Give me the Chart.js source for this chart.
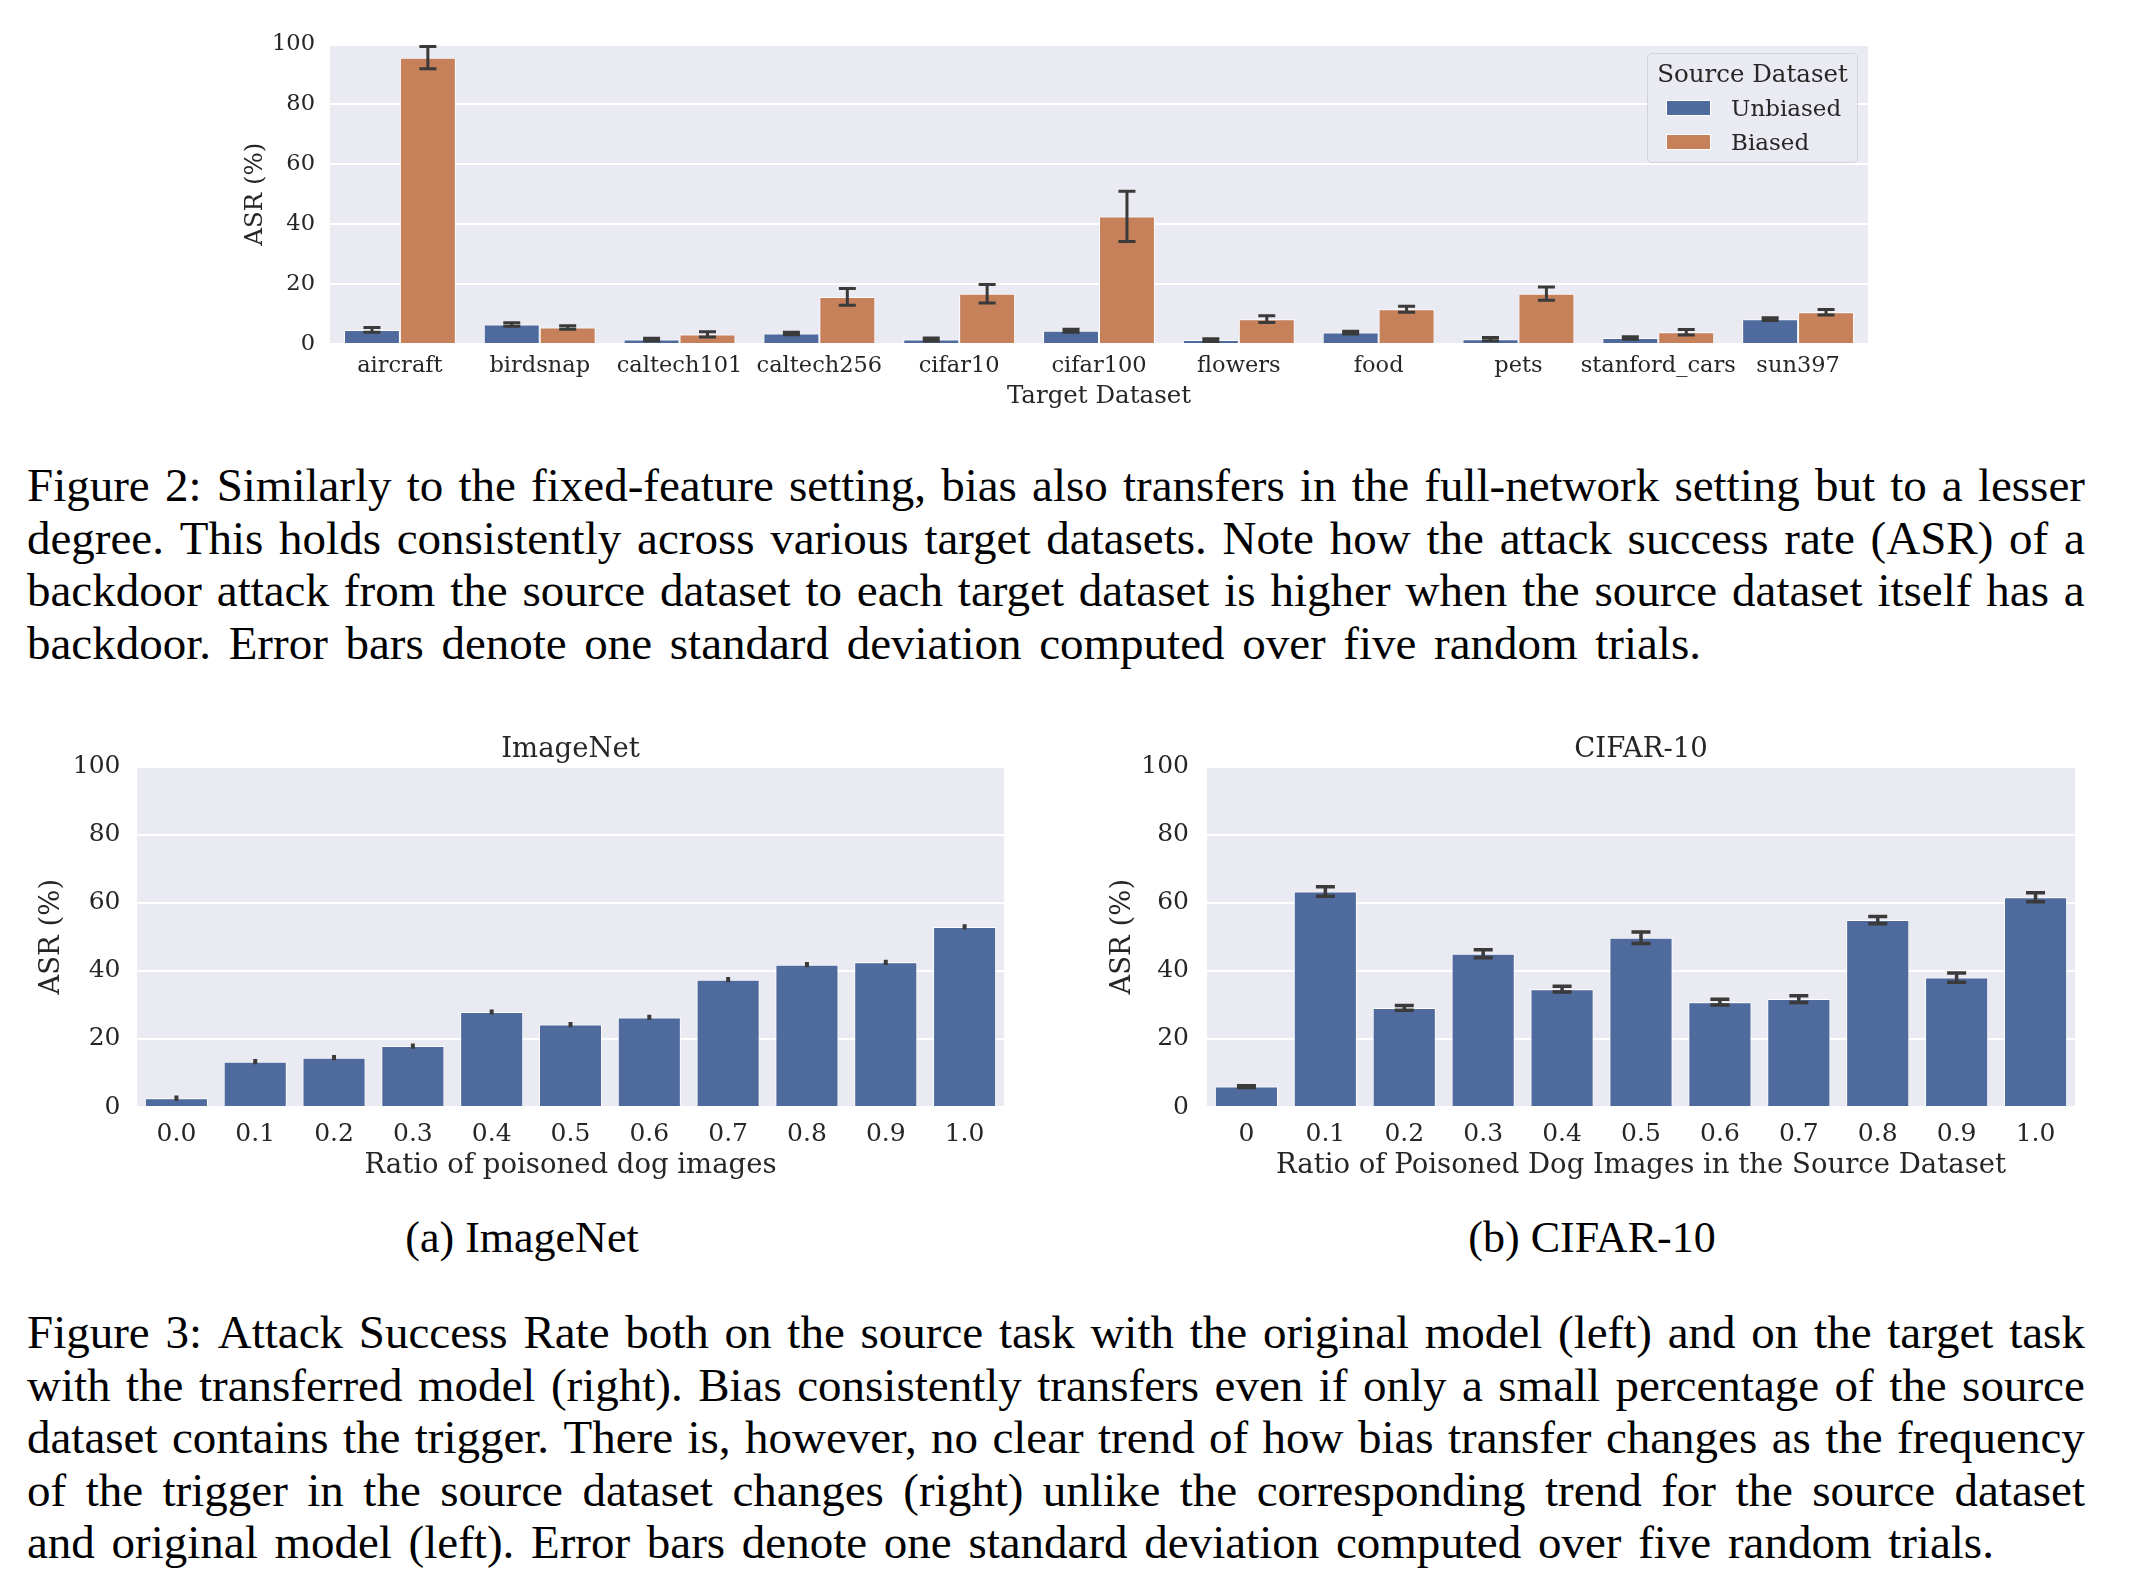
<!DOCTYPE html>
<html>
<head>
<meta charset="utf-8">
<script src="https://cdn.jsdelivr.net/npm/chart.js@4.4.1/dist/chart.umd.min.js"></script>
<style>
  html, body { margin: 0; padding: 0; background: #fff; }
  body { width: 2130px; height: 1594px; position: relative; overflow: hidden; }
  .abs { position: absolute; }
  .cap { position: absolute; left: 27px; width: 2058px; font-family: "Liberation Serif", serif; font-size: 47px; color: #000; }
  .cap .ln { display: flex; justify-content: space-between; height: 52.6px; line-height: 52.6px; white-space: nowrap; }
  .sub { position: absolute; font-family: "Liberation Serif", serif; font-size: 44px; line-height: 52px; color: #000; transform: translateX(-50%); white-space: nowrap; }
  #legend { position: absolute; left: 1647px; top: 53px; width: 211px; height: 110px; box-sizing: border-box;
            border: 1.5px solid #d2d2da; border-radius: 5px; background: rgba(234,234,242,0.85);
            font-family: "DejaVu Serif", serif; color: #262626; }
  #legend .lt { position: absolute; left: 0; width: 100%; top: 5px; text-align: center; font-size: 24.5px; line-height: 30px; }
  #legend .row { position: absolute; left: 18px; font-size: 23px; line-height: 28px; }
  #legend .sw { position: absolute; left: 0; top: 6px; width: 45px; height: 16px; border: 1px solid #fff; box-sizing: border-box; }
  #legend .tx { position: absolute; left: 65px; top: 0; }
</style>
</head>
<body>
<div class="abs" style="left:200px;top:16px;width:1700px;height:404px;"><canvas id="top" width="1700" height="404"></canvas></div>
<div id="legend"></div>
<div class="cap" id="cap2" style="top:459px;"></div>
<div class="abs" style="left:0px;top:700px;width:1060px;height:500px;"><canvas id="imnet" width="1060" height="500"></canvas></div>
<div class="abs" style="left:1070px;top:700px;width:1060px;height:500px;"><canvas id="cifar" width="1060" height="500"></canvas></div>
<div class="sub" style="left:522px;top:1212px;">(a) ImageNet</div>
<div class="sub" style="left:1592px;top:1212px;">(b) CIFAR-10</div>
<div class="cap" id="cap3" style="top:1306px;"></div>
<script>
// Figure 2 data
const targets = ["aircraft", "birdsnap", "caltech101", "caltech256", "cifar10", "cifar100",
                 "flowers", "food", "pets", "stanford_cars", "sun397"];
const seriesNames = ["Unbiased", "Biased"];
const seriesColors = ["#4f6a9c", "#c6815a"];
const unbiased = [4.7, 6.5, 1.5, 3.5, 1.5, 4.4, 1.3, 3.8, 1.6, 2.0, 8.3];
const unbiasedErr = [0.8, 0.6, 0.4, 0.4, 0.5, 0.5, 0.45, 0.45, 0.55, 0.4, 0.45];
const biased = [95.6, 5.5, 3.2, 15.7, 16.8, 42.6, 8.3, 11.6, 16.8, 3.9, 10.6];
const biasedErr = [3.7, 0.6, 0.9, 2.8, 3.1, 8.4, 1.1, 1.0, 2.2, 0.9, 0.9];

// Figure 3 data
const imagenetRatios = ["0.0", "0.1", "0.2", "0.3", "0.4", "0.5", "0.6", "0.7", "0.8", "0.9", "1.0"];
const imagenetAsr = [2.6, 13.3, 14.5, 17.9, 27.9, 24.2, 26.3, 37.4, 41.8, 42.5, 52.9];
const imagenetErr = [0.25, 0.25, 0.25, 0.25, 0.25, 0.25, 0.25, 0.25, 0.25, 0.25, 0.25];
const cifarRatios = ["0", "0.1", "0.2", "0.3", "0.4", "0.5", "0.6", "0.7", "0.8", "0.9", "1.0"];
const cifarAsr = [6.0, 63.3, 29.1, 45.0, 34.6, 49.7, 30.8, 31.7, 54.9, 38.0, 61.6];
const cifarErr = [0.25, 1.4, 0.7, 1.2, 0.85, 1.7, 0.85, 1.0, 1.05, 1.35, 1.3];
const yTicks = [0, 20, 40, 60, 80, 100];

const cap2Lines = [
  "Figure 2: Similarly to the fixed-feature setting, bias also transfers in the full-network setting but to a lesser",
  "degree. This holds consistently across various target datasets. Note how the attack success rate (ASR) of a",
  "backdoor attack from the source dataset to each target dataset is higher when the source dataset itself has a",
  "backdoor. Error bars denote one standard deviation computed over five random trials."
];
const cap3Lines = [
  "Figure 3: Attack Success Rate both on the source task with the original model (left) and on the target task",
  "with the transferred model (right). Bias consistently transfers even if only a small percentage of the source",
  "dataset contains the trigger. There is, however, no clear trend of how bias transfer changes as the frequency",
  "of the trigger in the source dataset changes (right) unlike the corresponding trend for the source dataset",
  "and original model (left). Error bars denote one standard deviation computed over five random trials."
];

Chart.defaults.font.family = '"DejaVu Serif", serif';
Chart.defaults.color = "#262626";
Chart.defaults.animation = false;

const plotBg = {
  id: "plotBg",
  beforeDraw(chart) {
    const { ctx, chartArea: a } = chart;
    ctx.save();
    ctx.fillStyle = "#eaeaf2";
    ctx.fillRect(a.left, a.top, a.width, a.height);
    ctx.restore();
  }
};

// error bars: vertical line with caps, value +/- err
const errBars = {
  id: "errBars",
  afterDatasetsDraw(chart, args, opts) {
    const ctx = chart.ctx, y = chart.scales.y;
    ctx.save();
    ctx.strokeStyle = "#3a3a3a";
    ctx.lineWidth = opts.lw || 3;
    chart.data.datasets.forEach((ds, di) => {
      if (!ds.err) return;
      chart.getDatasetMeta(di).data.forEach((bar, i) => {
        const v = ds.data[i], e = ds.err[i];
        const t = y.getPixelForValue(v + e), b = y.getPixelForValue(v - e);
        const hw = opts.cap / 2;
        ctx.beginPath();
        ctx.moveTo(bar.x, t); ctx.lineTo(bar.x, b);
        ctx.moveTo(bar.x - hw, t); ctx.lineTo(bar.x + hw, t);
        ctx.moveTo(bar.x - hw, b); ctx.lineTo(bar.x + hw, b);
        ctx.stroke();
      });
    });
    ctx.restore();
  }
};

function yAxis(width, tickPad, titlePad, tickSize, titleSize) {
  return {
    min: 0, max: 100,
    afterBuildTicks(s) { s.ticks = yTicks.map(v => ({ value: v })); },
    ticks: { padding: tickPad, font: { size: tickSize } },
    grid: { color: "#ffffff", lineWidth: 2, drawTicks: false },
    border: { display: false },
    title: { display: true, text: "ASR (%)", font: { size: titleSize }, padding: { top: titlePad, bottom: 0 } },
    afterFit(s) { s.width = width; }
  };
}

function xAxis(height, tickPad, titleText, titlePad, tickSize, titleSize) {
  return {
    grid: { display: false },
    border: { display: false },
    ticks: { padding: tickPad, font: { size: tickSize }, maxRotation: 0, autoSkip: false },
    title: { display: true, text: titleText, font: { size: titleSize }, padding: { top: 0, bottom: titlePad } },
    afterFit(s) { s.height = height; }
  };
}

// Figure 2 chart
new Chart(document.getElementById("top"), {
  type: "bar",
  data: {
    labels: targets,
    datasets: [
      { label: seriesNames[0], data: unbiased, err: unbiasedErr, backgroundColor: seriesColors[0],
        borderColor: "rgba(255,255,255,0.9)", borderWidth: 1 },
      { label: seriesNames[1], data: biased, err: biasedErr, backgroundColor: seriesColors[1],
        borderColor: "rgba(255,255,255,0.9)", borderWidth: 1 }
    ]
  },
  options: {
    responsive: false,
    devicePixelRatio: 1,
    layout: { padding: { left: 0, right: 32, top: 18, bottom: 0 } },
    datasets: { bar: { categoryPercentage: 0.8, barPercentage: 1.0 } },
    scales: {
      x: xAxis(76, 1, "Target Dataset", 9, 22.5, 24.5),
      y: yAxis(130, 15, 41, 22.5, 24.5)
    },
    plugins: {
      legend: { display: false },
      tooltip: { enabled: false },
      errBars: { cap: 17, lw: 3 }
    }
  },
  plugins: [plotBg, errBars]
});

// Figure 3 charts
function ratioChart(id, title, labels, values, errs, xTitle, rightPad, yTitlePad, yTickPad, cap) {
  new Chart(document.getElementById(id), {
    type: "bar",
    data: {
      labels: labels,
      datasets: [{ data: values, err: errs, backgroundColor: seriesColors[0],
                   borderColor: "rgba(255,255,255,0.9)", borderWidth: 1 }]
    },
    options: {
      responsive: false,
      devicePixelRatio: 1,
      layout: { padding: { left: 0, right: rightPad, top: 0, bottom: 0 } },
      datasets: { bar: { categoryPercentage: 0.8, barPercentage: 1.0 } },
      scales: {
        x: xAxis(93, 4, xTitle, 18, 25, 27.5),
        y: yAxis(137, yTickPad, yTitlePad, 25, 27.5)
      },
      plugins: {
        legend: { display: false },
        tooltip: { enabled: false },
        title: { display: true, text: title, fullSize: false, color: "#262626",
                 font: { size: 27.5, weight: "normal" }, padding: { top: 33.5, bottom: 0 } },
        errBars: { cap: cap, lw: 3.5 }
      }
    },
    plugins: [plotBg, errBars]
  });
}
ratioChart("imnet", "ImageNet", imagenetRatios, imagenetAsr, imagenetErr,
           "Ratio of poisoned dog images", 56, 35.5, 16.5, 4);
ratioChart("cifar", "CIFAR-10", cifarRatios, cifarAsr, cifarErr,
           "Ratio of Poisoned Dog Images in the Source Dataset", 55, 36.5, 18, 19);

// legend for figure 2
const leg = document.getElementById("legend");
leg.innerHTML = '<div class="lt">Source Dataset</div>';
seriesNames.forEach((n, i) => {
  const r = document.createElement("div");
  r.className = "row";
  r.style.top = (40 + i * 34) + "px";
  r.innerHTML = '<span class="sw" style="background:' + seriesColors[i] + '"></span><span class="tx">' + n + '</span>';
  leg.appendChild(r);
});

// captions, each line justified to the page width
function caption(el, lines, lastWidth) {
  lines.forEach((t, i) => {
    const d = document.createElement("div");
    d.className = "ln";
    if (i === lines.length - 1) d.style.width = lastWidth + "px";
    t.split(" ").forEach(w => {
      const s = document.createElement("span");
      s.textContent = w;
      d.appendChild(s);
    });
    el.appendChild(d);
  });
}
caption(document.getElementById("cap2"), cap2Lines, 1674);
caption(document.getElementById("cap3"), cap3Lines, 1967);
</script>
</body>
</html>
